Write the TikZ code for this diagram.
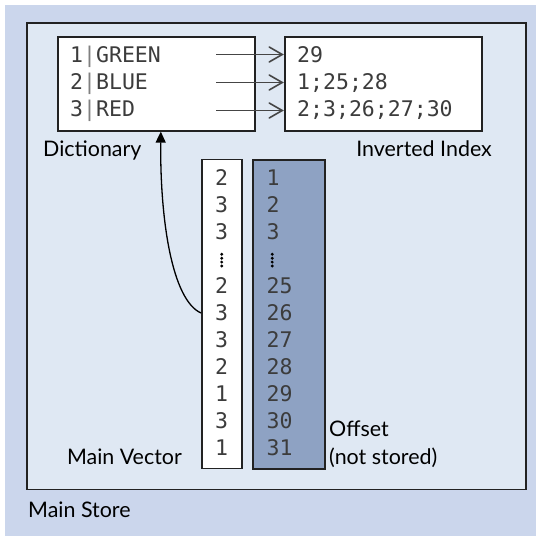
\documentclass[tikz,border=0pt]{standalone}
\usepackage{fontspec}
\setmainfont{Lato}
\newfontfamily\monof{DejaVu Sans Mono}
\usetikzlibrary{arrows.meta}
\definecolor{outerbg}{HTML}{CBD6EC}
\definecolor{innerbg}{HTML}{DFE8F3}
\definecolor{offbg}{HTML}{8EA2C3}
\definecolor{framec}{HTML}{222222}
\definecolor{monotxt}{HTML}{3C3C3C}
\definecolor{arrc}{HTML}{454545}
\begin{document}
\begin{tikzpicture}[x=1bp,y=-1bp,
  frame/.style={draw=framec,line width=1.6bp,inner sep=0pt,anchor=north west},
  mono/.style={font=\fontsize{21.6}{25}\monof,text=monotxt,inner sep=0pt},
  lbl/.style={font=\fontsize{21.5}{26}\selectfont,text=black,inner sep=0pt},
  rowarr/.style={draw=arrc,line width=1.6bp},
  barb/.style={draw=arrc,line width=1.6bp,line join=miter,line cap=round},
  curvarr/.style={draw=black,line width=1.3bp,-{Triangle[length=11bp,width=10bp]}},
  vdot/.style={fill=black,circle,inner sep=0pt,minimum size=3.2bp}
]
\useasboundingbox (0,0) rectangle (536,536);
\fill[outerbg] (5,5) rectangle (536,536);
% main store frame
\node[frame,fill=innerbg,minimum width=499bp,minimum height=466.5bp] (store) at (26,22) {};
% dictionary and inverted index
\node[frame,fill=white,minimum width=197bp,minimum height=94bp] (dict) at (57,36) {};
\node[frame,fill=white,minimum width=197bp,minimum height=94bp] (inv) at (284,36) {};
\node[mono,anchor=base west] (d1) at (70,62.7) {1{\color{gray}|}GREEN};
\node[mono,anchor=base west] (d2) at (70,89.8) {2{\color{gray}|}BLUE};
\node[mono,anchor=base west] (d3) at (70,116.9) {3{\color{gray}|}RED};
\node[mono,anchor=base west] (i1) at (297,62.7) {29};
\node[mono,anchor=base west] (i2) at (297,89.8) {1;25;28};
\node[mono,anchor=base west] (i3) at (297,116.9) {2;3;26;27;30};
\foreach \r/\yy in {1/54.5,2/82.5,3/110.5}{
  \coordinate (a\r) at (216,\yy);
  \coordinate (e\r) at ([xshift=-1.8bp]a\r -| inv.west);
  \draw[rowarr] (a\r) -- (e\r);
  \draw[barb] ([shift={(-13,-7.5)}]e\r) -- (e\r) -- ++(-13,7.5);
}
\node[lbl,anchor=base west] (ldict) at (43,157) {Dictionary};
\node[lbl,anchor=base east] (linv) at (492,157) {Inverted Index};
% main vector and offset
\node[frame,fill=white,minimum width=40bp,minimum height=309bp] (mv) at (201,158.7) {};
\node[frame,fill=offbg,minimum width=72bp,minimum height=309bp] (off) at (252,159) {};
\foreach \v/\o [count=\k from 0] in {2/1,3/2,3/3,-/-,2/25,3/26,3/27,2/28,1/29,3/30,1/31}{
  \ifnum\k=3
    \foreach \j in {0,1,2,3}{
      \node[vdot] (vd\j) at (221.7,254.3+3.9*\j) {};
      \node[vdot] (od\j) at (272.2,254.3+3.9*\j) {};
    }
  \else
    \node[mono,anchor=base] (v\k) at (221.7,186+26.9*\k) {\v};
    \node[mono,anchor=base west] (o\k) at (266.5,186+26.9*\k) {\o};
  \fi
}
\coordinate (cs) at (mv.west |- 0,313);
\coordinate (ce) at ([xshift=4.5bp]dict.south);
\draw[curvarr] (cs) .. controls (172,300) and (160,220) .. (ce);
\node[lbl,anchor=base east] (lmv) at (182,464) {Main Vector};
\node[lbl,anchor=base west] (loff) at (329,436) {Offset};
\node[lbl,anchor=base west] (lns) at (329,464) {(not stored)};
\node[lbl,anchor=base west] (lms) at (28,517) {Main Store};
\end{tikzpicture}
\end{document}
